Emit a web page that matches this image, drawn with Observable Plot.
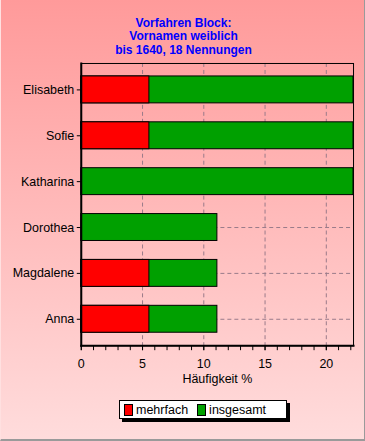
<!DOCTYPE html>
<html>
<head>
<meta charset="utf-8">
<script src="https://cdn.jsdelivr.net/npm/d3@7"></script>
<script src="https://cdn.jsdelivr.net/npm/@observablehq/plot@0.6"></script>
<style>
  html, body { margin: 0; padding: 0; }
  #wrap {
    position: relative; width: 365px; height: 441px; box-sizing: border-box;
    background: linear-gradient(to bottom, #ff9a9a, #ffdcdc);
    border-right: 1px solid #9a9a9a; border-bottom: 2px solid #9a9a9a;
    border-left: 1px solid #ffe0e0;
    font-family: "Liberation Sans", Arial, sans-serif;
  }
  #title {
    position: absolute; left: 0; top: 17px; width: 365px; text-align: center;
    color: #0000ff; font-weight: bold; font-size: 12px; line-height: 13.3px;
  }
  #chart { position: absolute; left: -1px; top: 56px; }
  #legend {
    position: absolute; left: 118px; top: 400px; width: 166px; height: 17px;
    background: #fff; border: 1px solid #000; box-shadow: 3px 3px 0 #000;
    font-size: 12.5px; color: #000; display: flex; align-items: center;
  }
  .sw { display: inline-block; width: 7px; height: 10px; border: 1px solid #000; margin: 0 3px 0 4px; }
</style>
</head>
<body>
<div id="wrap">
  <div id="title">Vorfahren Block:<br>Vornamen weiblich<br>bis 1640, 18 Nennungen</div>
  <div id="chart"></div>
  <div id="legend"></div>
</div>
<script>
const names = ["Elisabeth", "Sofie", "Katharina", "Dorothea", "Magdalene", "Anna"];
const insgesamt = [22.22, 22.22, 22.22, 11.11, 11.11, 11.11];
const mehrfach = [5.56, 5.56, 0, 0, 5.56, 5.56];
const majorTicks = [0, 5, 10, 15, 20];
const minorTicks = [0,1,2,3,4,5,6,7,8,9,10,11,12,13,14,15,16,17,18,19,20,21,22];
const seriesNames = ["mehrfach", "insgesamt"];
const seriesColors = ["#ff0000", "#00a000"];

const rows = names.map((n, i) => ({name: n, insgesamt: insgesamt[i], mehrfach: mehrfach[i]}));

const plot = Plot.plot({
  width: 365,
  height: 334,
  marginTop: 7,
  marginBottom: 44,
  marginLeft: 81,
  marginRight: 11,
  style: {background: "transparent", fontFamily: "Liberation Sans, Arial, sans-serif", fontSize: "12.5px", color: "#000"},
  x: {domain: [0, 22.222]},
  y: {domain: names, paddingInner: 0.42, paddingOuter: 0.286},
  marks: [
    Plot.ruleX(majorTicks.slice(1), {stroke: "#9a7a8a", strokeDasharray: "4,3"}),
    Plot.ruleY(names, {y: d => d, stroke: "#9a7a8a", strokeDasharray: "4,3"}),
    Plot.barX(rows, {y: "name", x: "insgesamt", fill: seriesColors[1], stroke: "#000", strokeWidth: 1}),
    Plot.barX(rows.filter(d => d.mehrfach > 0), {y: "name", x: "mehrfach", fill: seriesColors[0], stroke: "#000", strokeWidth: 1}),
    Plot.frame({stroke: "#000", strokeWidth: 1}),
    Plot.frame({anchor: "left", stroke: "#000", strokeWidth: 2}),
    Plot.frame({anchor: "bottom", stroke: "#000", strokeWidth: 2}),
    Plot.axisX(minorTicks, {tickSize: 5, text: null, stroke: "#000"}),
    Plot.axisX(majorTicks, {tickSize: 5, tickPadding: 8, stroke: "#000", label: "Häufigkeit %", labelAnchor: "center", labelArrow: "none", labelOffset: 37}),
    Plot.axisY({tickSize: 4, tickPadding: 3, stroke: "#000", label: null})
  ]
});
document.getElementById("chart").appendChild(plot);

const lg = document.getElementById("legend");
seriesNames.forEach((s, i) => {
  const sw = document.createElement("span");
  sw.className = "sw"; sw.style.background = seriesColors[i];
  if (i > 0) sw.style.marginLeft = "9px";
  lg.appendChild(sw);
  const t = document.createElement("span");
  t.textContent = s;
  lg.appendChild(t);
});
</script>
</body>
</html>
